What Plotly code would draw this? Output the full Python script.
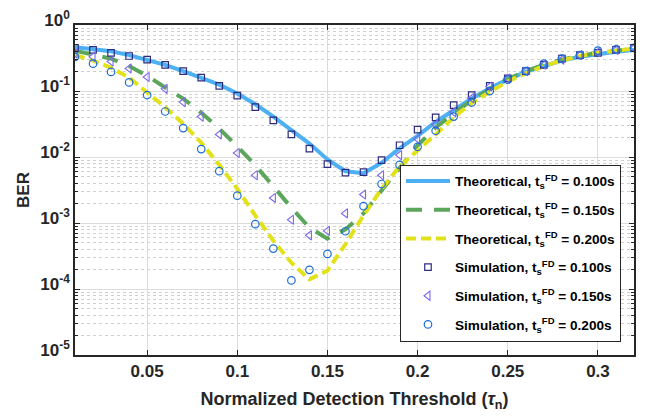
import plotly.graph_objects as go

# ---- data ----
tau = [0.01, 0.02, 0.03, 0.04, 0.05, 0.06, 0.07, 0.08, 0.09, 0.10,
       0.11, 0.12, 0.13, 0.14, 0.15, 0.16, 0.17, 0.18, 0.19, 0.20,
       0.21, 0.22, 0.23, 0.24, 0.25, 0.26, 0.27, 0.28, 0.29, 0.30,
       0.31, 0.32]

theo_100 = [0.46, 0.43, 0.40, 0.35, 0.30, 0.25, 0.20, 0.16, 0.125, 0.092,
            0.063, 0.041, 0.026, 0.0160, 0.0092, 0.0061, 0.0057, 0.0082, 0.0136, 0.021,
            0.034, 0.052, 0.077, 0.110, 0.150, 0.195, 0.240, 0.290, 0.330, 0.365,
            0.395, 0.42]
theo_150 = [0.41, 0.36, 0.31, 0.24, 0.17, 0.113, 0.077, 0.047, 0.027, 0.0145,
            0.0075, 0.0036, 0.0017, 0.00085, 0.00058, 0.00080, 0.0014, 0.0031, 0.0068, 0.015,
            0.028, 0.046, 0.072, 0.108, 0.152, 0.20, 0.25, 0.30, 0.34, 0.38,
            0.41, 0.43]
theo_200 = [0.35, 0.29, 0.225, 0.16, 0.095, 0.057, 0.032, 0.0165, 0.0076, 0.0033,
            0.0013, 0.00054, 0.00025, 0.00014, 0.00019, 0.00048, 0.0013, 0.0033, 0.0072, 0.0125,
            0.022, 0.040, 0.066, 0.097, 0.140, 0.185, 0.240, 0.290, 0.340, 0.380,
            0.410, 0.440]

sim_100 = [0.45, 0.42, 0.38, 0.34, 0.30, 0.25, 0.20, 0.16, 0.12, 0.085,
           0.057, 0.036, 0.022, 0.0134, 0.0078, 0.0058, 0.0059, 0.0090, 0.0151, 0.026,
           0.040, 0.061, 0.087, 0.12, 0.156, 0.20, 0.25, 0.31, 0.35, 0.38,
           0.42, 0.45]
sim_150 = [0.37, 0.33, 0.28, 0.22, 0.163, 0.108, 0.068, 0.041, 0.022, 0.0115,
           0.0053, 0.0024, 0.00112, 0.00065, 0.00076, 0.0014, 0.0027, 0.0053, 0.0107, 0.0188,
           0.031, 0.048, 0.078, 0.117, 0.155, 0.20, 0.25, 0.30, 0.35, 0.39,
           0.42, 0.45]
sim_200 = [0.33, 0.26, 0.195, 0.135, 0.087, 0.049, 0.0275, 0.0132, 0.0061, 0.0026,
           0.00096, 0.00041, 0.000135, 0.000195, 0.00034, 0.00075, 0.0018, 0.0039, 0.0076, 0.0143,
           0.025, 0.041, 0.067, 0.10, 0.149, 0.20, 0.26, 0.31, 0.35, 0.41,
           0.43, 0.45]

x_ticks = [0.05, 0.1, 0.15, 0.2, 0.25, 0.3]
x_ticktext = ["0.05", "0.1", "0.15", "0.2", "0.25", "0.3"]
y_ticks = [1e-5, 1e-4, 1e-3, 1e-2, 1e-1, 1]
y_ticktext = ["10<sup>-5</sup>", "10<sup>-4</sup>", "10<sup>-3</sup>",
              "10<sup>-2</sup>", "10<sup>-1</sup>", "10<sup>0</sup>"]
y_minor = [k * 10.0 ** e for e in range(-5, 0) for k in range(2, 10)]

lab = "t<sub>s</sub><sup>FD</sup>"

FONT = "Liberation Sans, Arial, Helvetica, sans-serif"
DARK = "#262626"

fig = go.Figure()
fig.add_trace(go.Scatter(x=tau, y=theo_100, mode="lines", legendgroup="a",
                         name=f"Theoretical, {lab} = 0.100s",
                         line=dict(color="#4DB0F2", width=4)))
fig.add_trace(go.Scatter(x=tau, y=theo_150, mode="lines", legendgroup="b",
                         name=f"Theoretical, {lab} = 0.150s",
                         line=dict(color="#5CA65C", width=4, dash="16px,12px")))
fig.add_trace(go.Scatter(x=tau, y=theo_200, mode="lines", legendgroup="c",
                         name=f"Theoretical, {lab} = 0.200s",
                         line=dict(color="#E2E21A", width=4, dash="10px,5px")))
fig.add_trace(go.Scatter(x=tau, y=sim_100, mode="markers", legendgroup="d",
                         name=f"Simulation, {lab} = 0.100s",
                         marker=dict(symbol="square-open", size=6.5, color="#2B2B80",
                                     line=dict(width=1.2, color="#2B2B80"))))
fig.add_trace(go.Scatter(x=tau, y=sim_150, mode="markers", legendgroup="e",
                         name=f"Simulation, {lab} = 0.150s",
                         marker=dict(symbol="triangle-left-open", size=8, color="#7B68EE",
                                     line=dict(width=1.1, color="#7B68EE"))))
fig.add_trace(go.Scatter(x=tau, y=sim_200, mode="markers", legendgroup="f",
                         name=f"Simulation, {lab} = 0.200s",
                         marker=dict(symbol="circle-open", size=7.5, color="#1C6ED8",
                                     line=dict(width=1.2, color="#1C6ED8"))))

fig.update_layout(
    width=657, height=417,
    margin=dict(l=75, r=23, t=8, b=62),
    paper_bgcolor="white", plot_bgcolor="white",
    font=dict(family=FONT, color=DARK, size=16, weight="bold"),
    showlegend=True,
    legend=dict(x=0.9767, y=0.0403, xanchor="right", yanchor="bottom",
                bgcolor="white", bordercolor=DARK, borderwidth=1,
                font=dict(family=FONT, size=13.6, color="black", weight="bold"),
                traceorder="grouped", tracegroupgap=8, itemwidth=44),
)

fig.update_xaxes(
    range=[0.01, 0.32], tickmode="array", tickvals=x_ticks, ticktext=x_ticktext,
    ticks="inside", ticklen=5, tickcolor=DARK, tickwidth=1,
    showline=True, linecolor=DARK, linewidth=1.5, mirror="ticks",
    showgrid=True, gridcolor="#DCDCDC", gridwidth=1, zeroline=False,
    tickfont=dict(family=FONT, size=17, color=DARK, weight="bold"),
    title=dict(text="Normalized Detection Threshold (<i>τ</i><sub>n</sub>)",
               font=dict(family=FONT, size=18, color=DARK, weight="bold"), standoff=12),
)
fig.update_yaxes(
    type="log", range=[-5, 0.001], tickmode="array", tickvals=y_ticks, ticktext=y_ticktext,
    ticks="inside", ticklen=5, tickcolor=DARK, tickwidth=1,
    ticklabeloverflow="allow", ticklabelshift=-5,
    showline=True, linecolor=DARK, linewidth=1.5, mirror="ticks",
    showgrid=True, gridcolor="#DCDCDC", gridwidth=1, zeroline=False,
    tickfont=dict(family=FONT, size=17, color=DARK, weight="bold"),
    minor=dict(tickmode="array", tickvals=y_minor, ticks="inside", ticklen=3,
               tickcolor=DARK, showgrid=True, gridcolor="#D0D0D0", griddash="dot", gridwidth=1),
    title=dict(text="BER", font=dict(family=FONT, size=17, color=DARK, weight="bold"), standoff=6),
)

fig.write_html("out.html", config={"displayModeBar": False},
               post_script="document.body.style.margin='0';")
